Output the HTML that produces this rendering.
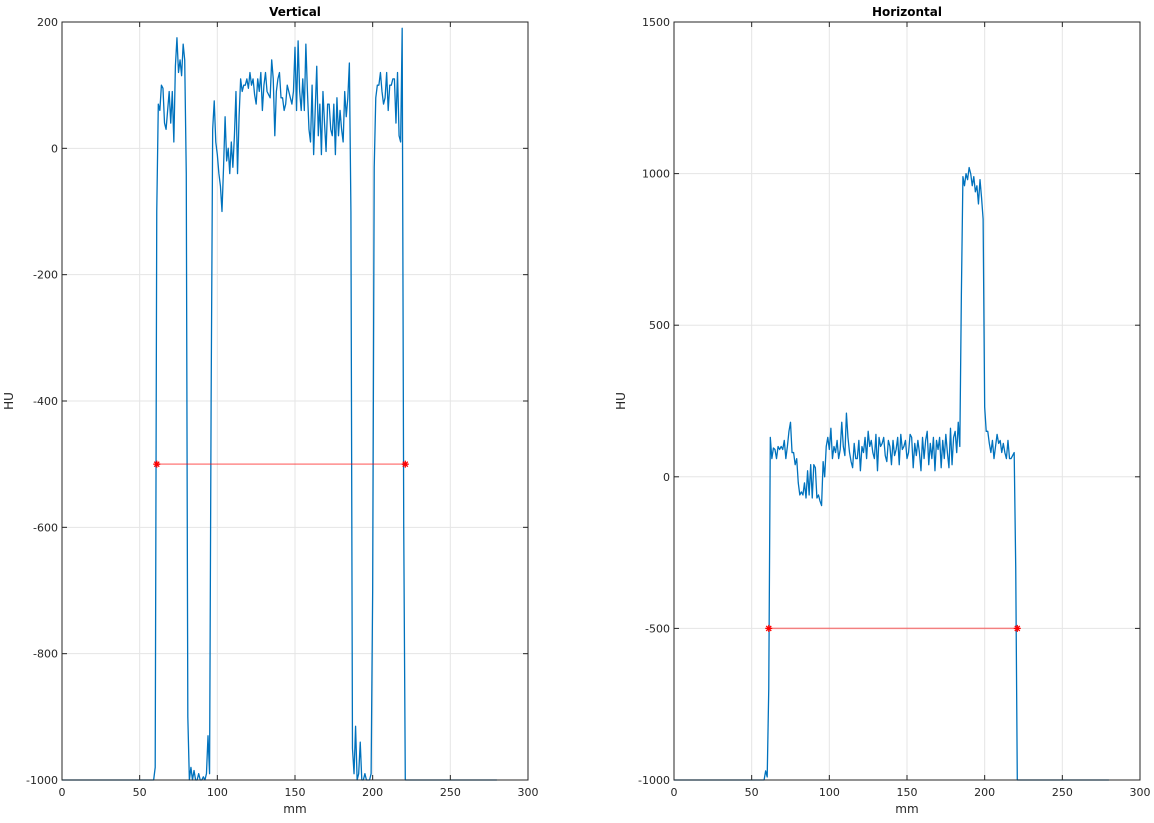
<!DOCTYPE html>
<html><head><meta charset="utf-8"><style>
html,body{margin:0;padding:0;background:#fff;}
svg{display:block;font-family:"DejaVu Sans","Liberation Sans",sans-serif;}
</style></head><body>
<svg id="fig" width="1154" height="823" viewBox="0 0 1154 823"></svg>
<script>
const xTicks=[0,50,100,150,200,250,300];
const vTicks=[200,0,-200,-400,-600,-800,-1000];
const hTicks=[1500,1000,500,0,-500,-1000];
const vertical=[
-1000,-1000,-1000,-1000,-1000,-1000,-1000,-1000,-1000,-1000,
-1000,-1000,-1000,-1000,-1000,-1000,-1000,-1000,-1000,-1000,
-1000,-1000,-1000,-1000,-1000,-1000,-1000,-1000,-1000,-1000,
-1000,-1000,-1000,-1000,-1000,-1000,-1000,-1000,-1000,-1000,
-1000,-1000,-1000,-1000,-1000,-1000,-1000,-1000,-1000,-1000,
-1000,-1000,-1000,-1000,-1000,-1000,-1000,-1000,-1000,-1000,
-980,-100,70,60,100,95,40,30,60,90,
40,90,10,130,175,120,140,115,165,140,
-40,-900,-1000,-980,-1000,-985,-1000,-1000,-990,-1000,
-1000,-995,-1000,-990,-930,-990,-400,30,75,10,
-10,-40,-60,-100,-30,50,-20,0,-40,10,
-30,20,90,-40,50,110,90,100,100,110,
95,120,100,110,85,70,110,90,120,60,
100,120,90,85,80,140,110,20,90,110,
120,80,80,60,70,100,90,80,70,90,
160,60,170,90,60,110,60,165,90,30,
10,100,-10,60,130,20,70,-10,90,40,
-5,70,70,30,20,70,-10,80,20,60,
30,10,90,50,80,135,-100,-950,-990,-915,
-1000,-990,-940,-1000,-1000,-990,-1000,-1000,-1000,-990,
-700,-30,80,100,100,120,90,70,80,120,
60,100,100,110,110,40,120,20,10,190,
-600,-1000,-1000,-1000,-1000,-1000,-1000,-1000,-1000,-1000,
-1000,-1000,-1000,-1000,-1000,-1000,-1000,-1000,-1000,-1000,
-1000,-1000,-1000,-1000,-1000,-1000,-1000,-1000,-1000,-1000,
-1000,-1000,-1000,-1000,-1000,-1000,-1000,-1000,-1000,-1000,
-1000,-1000,-1000,-1000,-1000,-1000,-1000,-1000,-1000,-1000,
-1000,-1000,-1000,-1000,-1000,-1000,-1000,-1000,-1000,-1000,
-1000];
const horizontal=[
-1000,-1000,-1000,-1000,-1000,-1000,-1000,-1000,-1000,-1000,
-1000,-1000,-1000,-1000,-1000,-1000,-1000,-1000,-1000,-1000,
-1000,-1000,-1000,-1000,-1000,-1000,-1000,-1000,-1000,-1000,
-1000,-1000,-1000,-1000,-1000,-1000,-1000,-1000,-1000,-1000,
-1000,-1000,-1000,-1000,-1000,-1000,-1000,-1000,-1000,-1000,
-1000,-1000,-1000,-1000,-1000,-1000,-1000,-1000,-1000,-970,
-990,-700,130,60,95,90,60,100,90,100,
90,120,60,100,150,180,80,80,40,60,
-20,-60,-50,-60,-20,-70,20,-60,40,-70,
40,30,-70,-60,-80,-95,50,0,100,130,
90,160,60,100,80,120,60,90,180,100,
70,210,130,80,50,30,110,60,60,120,
20,100,80,130,60,150,100,120,80,60,
140,20,130,100,110,130,70,50,120,100,
40,120,70,90,130,40,140,90,100,120,
60,80,140,130,30,110,70,120,80,20,
130,60,120,150,40,110,60,130,20,120,
90,130,30,120,60,140,80,30,160,40,
130,150,80,180,100,600,990,960,1000,980,
1020,1000,960,990,940,960,900,980,920,850,
230,150,150,110,80,120,60,100,140,110,
120,80,110,80,60,120,60,60,70,80,
-300,-1000,-1000,-1000,-1000,-1000,-1000,-1000,-1000,-1000,
-1000,-1000,-1000,-1000,-1000,-1000,-1000,-1000,-1000,-1000,
-1000,-1000,-1000,-1000,-1000,-1000,-1000,-1000,-1000,-1000,
-1000,-1000,-1000,-1000,-1000,-1000,-1000,-1000,-1000,-1000,
-1000,-1000,-1000,-1000,-1000,-1000,-1000,-1000,-1000,-1000,
-1000,-1000,-1000,-1000,-1000,-1000,-1000,-1000,-1000,-1000,
-1000];
const vMarkX=[61,221];
const vMarkY=[-500,-500];
const hMarkX=[61,221];
const hMarkY=[-500,-500];

const NS="http://www.w3.org/2000/svg";
const fig=document.getElementById('fig');
function mk(tag,attrs,parent){const e=document.createElementNS(NS,tag);for(const k in attrs)e.setAttribute(k,attrs[k]);(parent||fig).appendChild(e);return e;}

function drawChart(cfg){
  const {x0,x1,y0,y1,ymin,ymax,yticks,data,mx,my,title,prefix}=cfg;
  const g=mk('g',{});
  
  
  const sx=v=>x0+(v-0)/(300-0)*(x1-x0);
  const sy=v=>y1-(v-ymin)/(ymax-ymin)*(y1-y0);
  // grid
  xTicks.forEach(t=>{const l=mk('line',{x1:sx(t),x2:sx(t),y1:y0,y2:y1,stroke:'#e5e5e5','stroke-width':1},g);
    });
  yticks.forEach(t=>{const l=mk('line',{x1:x0,x2:x1,y1:sy(t),y2:sy(t),stroke:'#e5e5e5','stroke-width':1},g);
    });
  // series
  let d='';data.forEach((v,i)=>{d+=(i?'L':'M')+sx(i).toFixed(2)+','+sy(v).toFixed(2);});
  const p=mk('path',{d:d,fill:'none',stroke:'#0072bd','stroke-width':1.3,'stroke-linejoin':'round'},g);
  
  
  // red width marker
  const rl=mk('line',{x1:sx(mx[0]),x2:sx(mx[1]),y1:sy(my[0]),y2:sy(my[1]),stroke:'#ff0000','stroke-opacity':0.45,'stroke-width':1.5},g);
  
  
  mx.forEach((xv,i)=>{const cx=sx(xv),cy=sy(my[i]);
    const m=mk('g',{stroke:'#ff0000','stroke-width':1.3},g);
    
    
    mk('line',{x1:cx-3.5,x2:cx+3.5,y1:cy,y2:cy},m);
    mk('line',{x1:cx,x2:cx,y1:cy-3.5,y2:cy+3.5},m);
    mk('line',{x1:cx-2.5,x2:cx+2.5,y1:cy-2.5,y2:cy+2.5},m);
    mk('line',{x1:cx-2.5,x2:cx+2.5,y1:cy+2.5,y2:cy-2.5},m);});
  // box
  const b=mk('rect',{x:x0,y:y0,width:x1-x0,height:y1-y0,fill:'none',stroke:'#262626','stroke-width':1},g);
  
  // ticks & labels
  xTicks.forEach(t=>{const X=sx(t);
    mk('line',{x1:X,x2:X,y1:y1,y2:y1-5,stroke:'#262626'},g);
    mk('line',{x1:X,x2:X,y1:y0,y2:y0+5,stroke:'#262626'},g);
    const tx=mk('text',{x:X,y:y1+16,'font-size':11,fill:'#262626','text-anchor':'middle'},g);
    tx.textContent=t;});
  yticks.forEach(t=>{const Y=sy(t);
    mk('line',{x1:x0,x2:x0+5,y1:Y,y2:Y,stroke:'#262626'},g);
    mk('line',{x1:x1,x2:x1-5,y1:Y,y2:Y,stroke:'#262626'},g);
    const tx=mk('text',{x:x0-4,y:Y+4,'font-size':11,fill:'#262626','text-anchor':'end'},g);
    tx.textContent=t;});
  const tt=mk('text',{x:(x0+x1)/2,y:y0-6,'font-size':12,'font-weight':'bold',fill:'#000','text-anchor':'middle'},g);
  tt.textContent=title;
  const xl=mk('text',{x:(x0+x1)/2,y:y1+33,'font-size':12,fill:'#262626','text-anchor':'middle'},g);
  xl.textContent='mm';
  const cy=(y0+y1)/2;
  const yl=mk('text',{x:0,y:0,'font-size':12,fill:'#262626','text-anchor':'middle',transform:`translate(${x0-49},${cy}) rotate(-90)`},g);
  yl.textContent='HU';
}
drawChart({x0:62,x1:528,y0:22,y1:780,ymin:-1000,ymax:200,yticks:vTicks,data:vertical,mx:vMarkX,my:vMarkY,title:'Vertical',prefix:'vertical'});
drawChart({x0:674,x1:1140,y0:22,y1:780,ymin:-1000,ymax:1500,yticks:hTicks,data:horizontal,mx:hMarkX,my:hMarkY,title:'Horizontal',prefix:'horizontal'});
</script>
</body></html>
